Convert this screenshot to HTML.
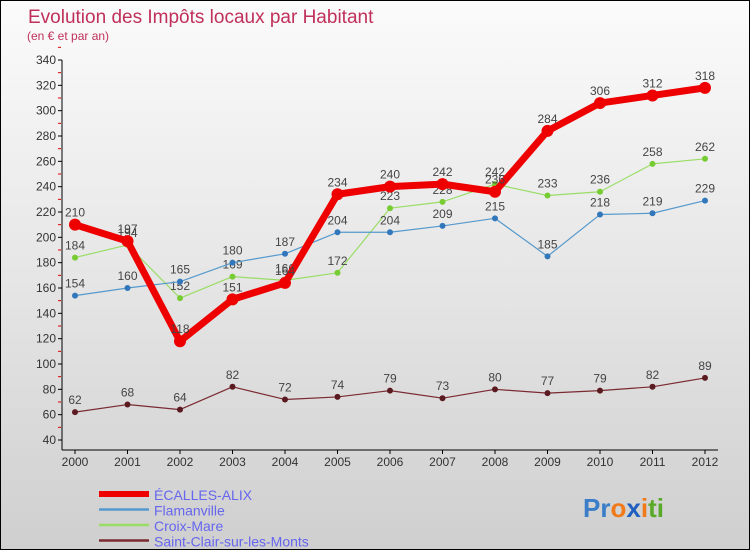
<!DOCTYPE html>
<html><head><meta charset="utf-8"><style>
html,body{margin:0;padding:0}
body{width:750px;height:550px;overflow:hidden;font-family:"Liberation Sans",sans-serif}
#c{position:absolute;left:0;top:0;width:748px;height:548px;border:1px solid #000;background:linear-gradient(#fbfbfb,#e6e6e6 50%,#cfcfcf)}
</style></head><body>
<div id="c">
<svg id="s" width="748" height="548" xmlns="http://www.w3.org/2000/svg" font-family="Liberation Sans, sans-serif">
<text x="27" y="22" font-size="19" fill="#c0305a">Evolution des Impôts locaux par Habitant</text>
<text x="26" y="39" font-size="12" fill="#c0305a">(en € et par an)</text>
<g id="ax"></g><g id="series"></g><g id="legend"></g>
<text x="582" y="516" font-size="26" font-weight="bold"><tspan fill="#3a7dc8">Pr</tspan><tspan fill="#f07a1a">o</tspan><tspan fill="#1f5fc0">x</tspan><tspan fill="#f07a1a">i</tspan><tspan fill="#5aaa2a">ti</tspan></text>
</svg></div>
<script>
const years=["2000","2001","2002","2003","2004","2005","2006","2007","2008","2009","2010","2011","2012"];
const ecalles=[210,197,118,151,164,234,240,242,236,284,306,312,318];
const flamanville=[154,160,165,180,187,204,204,209,215,185,218,219,229];
const croixMare=[184,194,152,169,166,172,223,228,242,233,236,258,262];
const saintClair=[62,68,64,82,72,74,79,73,80,77,79,82,89];
const yTicks=[40,60,80,100,120,140,160,180,200,220,240,260,280,300,320,340];
const NS="http://www.w3.org/2000/svg";
const X=i=>74+i*52.5, Y=v=>439-(v-40)*380/300;
function mk(p,t,a){const e=document.createElementNS(NS,t);for(const k in a)e.setAttribute(k,a[k]);p.appendChild(e);return e;}
const ax=document.getElementById('ax');
const yl=mk(ax,'line',{x1:61,y1:59,x2:61,y2:449,stroke:'#000'});


const xl=mk(ax,'line',{x1:61,y1:449,x2:717,y2:449,stroke:'#000'});


yTicks.forEach(v=>{
 mk(ax,'line',{x1:57,y1:Y(v),x2:61,y2:Y(v),stroke:'#000'});
 mk(ax,'line',{x1:57,y1:Y(v+10),x2:60,y2:Y(v+10),stroke:'#d00'});
 const t=mk(ax,'text',{x:55,y:Y(v)+4,'font-size':12,'text-anchor':'end',fill:'#333'});t.textContent=v;
 
 
});
years.forEach((y,i)=>{
 mk(ax,'line',{x1:X(i),y1:449,x2:X(i),y2:453,stroke:'#000'});
 const t=mk(ax,'text',{x:X(i),y:465,'font-size':12,'text-anchor':'middle',fill:'#333'});t.textContent=y;
 
 
});
const S=[
 {n:'Saint-Clair-sur-les-Monts',d:saintClair,c:'#7a2a30',w:1.2,r:3,mc:'#5a1a20'},
 {n:'Croix-Mare',d:croixMare,c:'#99dd66',w:1.2,r:3,mc:'#77cc33'},
 {n:'Flamanville',d:flamanville,c:'#5599cc',w:1.2,r:3,mc:'#3377bb'},
 {n:'ÉCALLES-ALIX',d:ecalles,c:'#ee0000',w:7,r:6,mc:'#ee0000'}];
const sg=document.getElementById('series');
S.forEach(s=>{
 const g=mk(sg,'g',{});
 
 
 const p=mk(g,'polyline',{points:s.d.map((v,i)=>X(i)+','+Y(v)).join(' '),fill:'none',stroke:s.c,'stroke-width':s.w,'stroke-linejoin':'round'});
 
 
 s.d.forEach((v,i)=>{
  const c=mk(g,'circle',{cx:X(i),cy:Y(v),r:s.r,fill:s.mc});
  
  
  const t=mk(g,'text',{x:X(i),y:Y(v)-8,'font-size':12,'text-anchor':'middle',fill:'#444'});t.textContent=v;
  
  
 });
});
const lg=document.getElementById('legend');
[S[3],S[2],S[1],S[0]].forEach((s,i)=>{
 const y=493+i*15.5;
 const g=mk(lg,'g',{});
 
 
 mk(g,'line',{x1:98,y1:y,x2:148,y2:y,stroke:s.c,'stroke-width':i==0?6:2.5});
 const t=mk(g,'text',{x:153,y:y+6,'font-size':14,fill:'#6666ee'});t.textContent=s.n;
});
</script>
</body></html>
